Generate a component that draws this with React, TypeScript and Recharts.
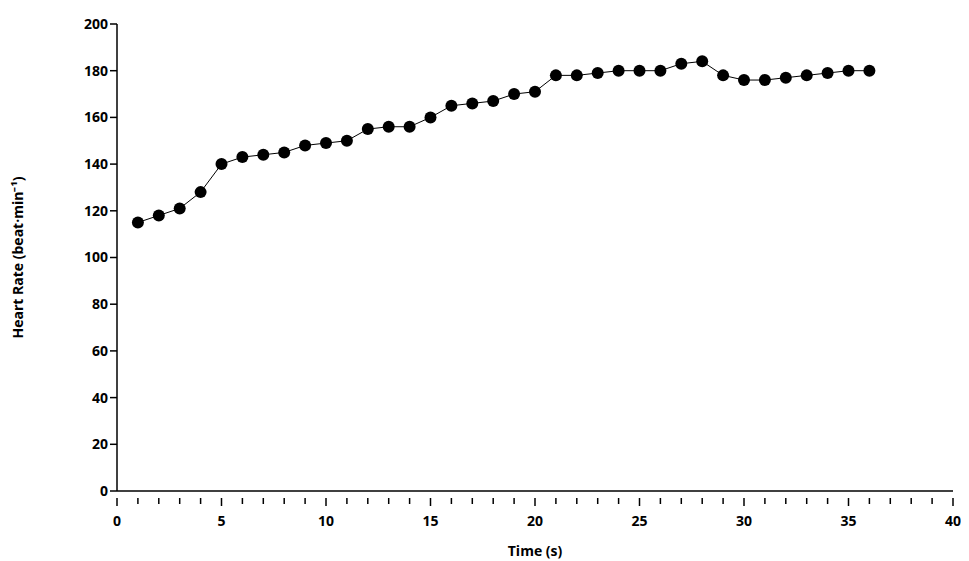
import React from 'react';
import { LineChart, Line, XAxis, YAxis } from 'recharts';

const times = Array.from({ length: 36 }, (_, i) => i + 1);
const heartRate = [115,118,121,128,140,143,144,145,148,149,150,155,156,156,160,165,166,167,170,171,178,178,179,180,180,180,183,184,178,176,176,177,178,179,180,180];
const xTicks = Array.from({ length: 41 }, (_, i) => i);
const yTicks = [0,20,40,60,80,100,120,140,160,180,200];

const data = times.map((t, i) => ({ t, hr: heartRate[i] }));
const font = '"Open Sans", sans-serif';

const XTick = (props: any) => {
  const { x, y, payload } = props;
  const major = payload.value % 5 === 0;
  return (
    <g>
      <line x1={x} x2={x} y1={y - 1} y2={y + (major ? 7 : 5)} stroke="#000" strokeWidth={1.5} />
      {major && (
        <text x={x} y={y + 27} textAnchor="middle" fontFamily={font} fontWeight="bold" fontSize={14} fill="#000">
          {payload.value}
        </text>
      )}
    </g>
  );
};

export default function App() {
  return (
    <div>
      <style>{'html,body{overflow:hidden}'}</style>
      <LineChart width={961} height={553} data={data} margin={{ top: 16, right: 16, bottom: 8, left: 0 }}>
        <XAxis
          dataKey="t" type="number" domain={[0, 40]} ticks={xTicks} interval={0}
          tickLine={false} axisLine={{ stroke: '#000', strokeWidth: 1.5 }}
          tick={<XTick />} height={62}
          label={{ value: 'Time (s)', position: 'insideBottom', offset: -3, style: { fontFamily: font, fontWeight: 'bold', fontSize: 14, fill: '#000' } }}
        />
        <YAxis
          type="number" domain={[0, 200]} ticks={yTicks} interval={0} width={109}
          axisLine={{ stroke: '#000', strokeWidth: 1.5 }} tickLine={{ stroke: '#000', strokeWidth: 1.5 }} tickSize={7}
          tick={{ fontFamily: font, fontWeight: 'bold', fontSize: 14, fill: '#000' }}
          label={{ value: 'Heart Rate (beat·min⁻¹)', angle: -90, position: 'insideLeft', offset: 10, style: { textAnchor: 'middle', fontFamily: font, fontWeight: 'bold', fontSize: 14, fill: '#000' } }}
        />
        <Line dataKey="hr" stroke="#000" strokeWidth={1} isAnimationActive={false}
          dot={{ r: 6, fill: '#000', stroke: '#000', strokeWidth: 0 }} />
      </LineChart>
    </div>
  );
}
